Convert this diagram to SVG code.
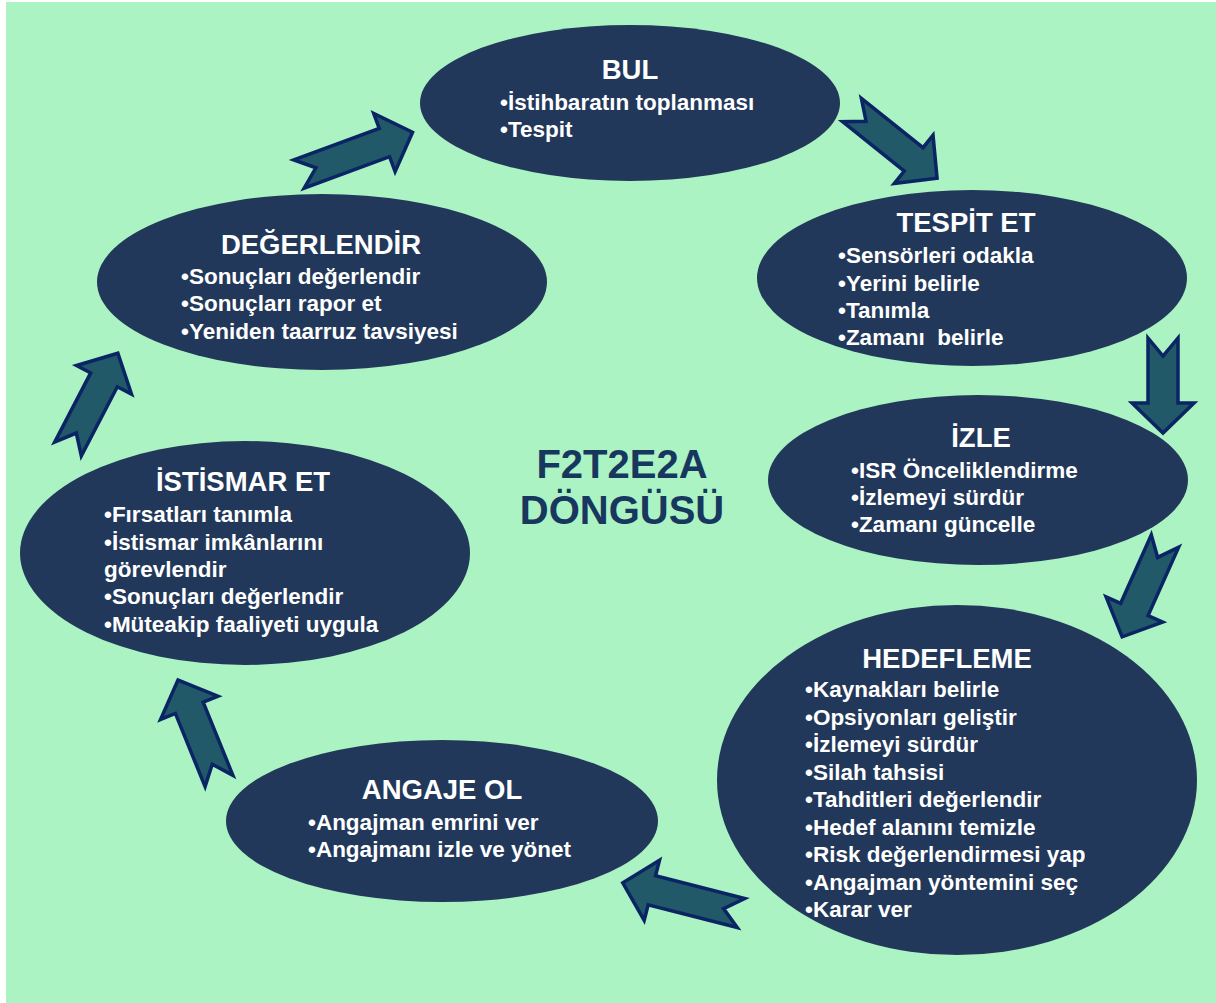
<svg xmlns="http://www.w3.org/2000/svg" width="1216" height="1003" viewBox="0 0 1216 1003">
<style>
.node{fill:#22385a}
.ttl{font-family:"Liberation Sans",Arial,sans-serif;font-size:27.5px;font-weight:bold;fill:#ffffff;text-anchor:middle}
.bl{font-family:"Liberation Sans",Arial,sans-serif;font-size:22.5px;font-weight:bold;fill:#ffffff}
.arr{fill:#215968;stroke:#0a2464;stroke-width:3.5;stroke-linejoin:miter}
.center{font-family:"Liberation Sans",Arial,sans-serif;font-size:40px;font-weight:bold;fill:#17375e;text-anchor:middle}
</style>
<rect x="0" y="0" width="1216" height="1003" fill="#ffffff"/>
<rect x="6" y="2" width="1210" height="1001" fill="#acf3c4"/>

<g id="connectors">
<polygon class="arr" transform="translate(299,174) rotate(-20.2)" points="0,-15 91,-15 91,-31 121,0 91,31 91,15 0,15 18,0"/>
<polygon class="arr" transform="translate(852,110) rotate(38.7)" points="0,-15 79,-15 79,-31 109,0 79,31 79,15 0,15 18,0"/>
<polygon class="arr" transform="translate(1163,338) rotate(90)" points="0,-15 65,-15 65,-31 95,0 65,31 65,15 0,15 18,0"/>
<polygon class="arr" transform="translate(1165,541) rotate(114.1)" points="0,-15 75,-15 75,-31 105,0 75,31 75,15 0,15 18,0"/>
<polygon class="arr" transform="translate(741,913) rotate(194.3)" points="0,-15 92,-15 92,-31 122,0 92,31 92,15 0,15 18,0"/>
<polygon class="arr" transform="translate(219,781) rotate(-112.1)" points="0,-15 79,-15 79,-31 109,0 79,31 79,15 0,15 18,0"/>
<polygon class="arr" transform="translate(68,449) rotate(-62.5)" points="0,-15 78,-15 78,-31 108,0 78,31 78,15 0,15 18,0"/>
</g>

<g id="bul">
<ellipse class="node" cx="630" cy="103" rx="210" ry="78"/>
<text class="ttl" x="630" y="79">BUL</text>
<text class="bl" x="500" y="110">•İstihbaratın toplanması</text>
<text class="bl" x="500" y="137">•Tespit</text>
</g>

<g id="tespit">
<ellipse class="node" cx="972" cy="278" rx="215" ry="88"/>
<text class="ttl" x="966" y="232">TESPİT ET</text>
<text class="bl" x="838" y="263">•Sensörleri odakla</text>
<text class="bl" x="838" y="291">•Yerini belirle</text>
<text class="bl" x="838" y="318">•Tanımla</text>
<text class="bl" x="838" y="345" xml:space="preserve">•Zamanı  belirle</text>
</g>

<g id="izle">
<ellipse class="node" cx="978" cy="480" rx="210" ry="85"/>
<text class="ttl" x="981" y="447">İZLE</text>
<text class="bl" x="851" y="478">•ISR Önceliklendirme</text>
<text class="bl" x="851" y="505">•İzlemeyi sürdür</text>
<text class="bl" x="851" y="532">•Zamanı güncelle</text>
</g>

<g id="hedefleme">
<ellipse class="node" cx="957" cy="780" rx="240" ry="175"/>
<text class="ttl" x="947" y="668">HEDEFLEME</text>
<text class="bl" x="805" y="697">•Kaynakları belirle</text>
<text class="bl" x="805" y="725">•Opsiyonları geliştir</text>
<text class="bl" x="805" y="752">•İzlemeyi sürdür</text>
<text class="bl" x="805" y="780">•Silah tahsisi</text>
<text class="bl" x="805" y="807">•Tahditleri değerlendir</text>
<text class="bl" x="805" y="835">•Hedef alanını temizle</text>
<text class="bl" x="805" y="862">•Risk değerlendirmesi yap</text>
<text class="bl" x="805" y="890">•Angajman yöntemini seç</text>
<text class="bl" x="805" y="917">•Karar ver</text>
</g>

<g id="angaje">
<ellipse class="node" cx="442" cy="821" rx="216" ry="81"/>
<text class="ttl" x="442" y="799">ANGAJE OL</text>
<text class="bl" x="308" y="830">•Angajman emrini ver</text>
<text class="bl" x="308" y="857">•Angajmanı izle ve yönet</text>
</g>

<g id="istismar">
<ellipse class="node" cx="245" cy="553" rx="225" ry="112"/>
<text class="ttl" x="243" y="491">İSTİSMAR ET</text>
<text class="bl" x="104" y="522">•Fırsatları tanımla</text>
<text class="bl" x="104" y="550">•İstismar imkânlarını</text>
<text class="bl" x="104" y="577">görevlendir</text>
<text class="bl" x="104" y="604">•Sonuçları değerlendir</text>
<text class="bl" x="104" y="632">•Müteakip faaliyeti uygula</text>
</g>

<g id="degerlendir">
<ellipse class="node" cx="322" cy="282" rx="225" ry="88"/>
<text class="ttl" x="321" y="254">DEĞERLENDİR</text>
<text class="bl" x="181" y="284">•Sonuçları değerlendir</text>
<text class="bl" x="181" y="311">•Sonuçları rapor et</text>
<text class="bl" x="181" y="339">•Yeniden taarruz tavsiyesi</text>
</g>

<g id="title">
<text class="center" x="622" y="478">F2T2E2A</text>
<text class="center" x="622" y="524">DÖNGÜSÜ</text>
</g>
</svg>
